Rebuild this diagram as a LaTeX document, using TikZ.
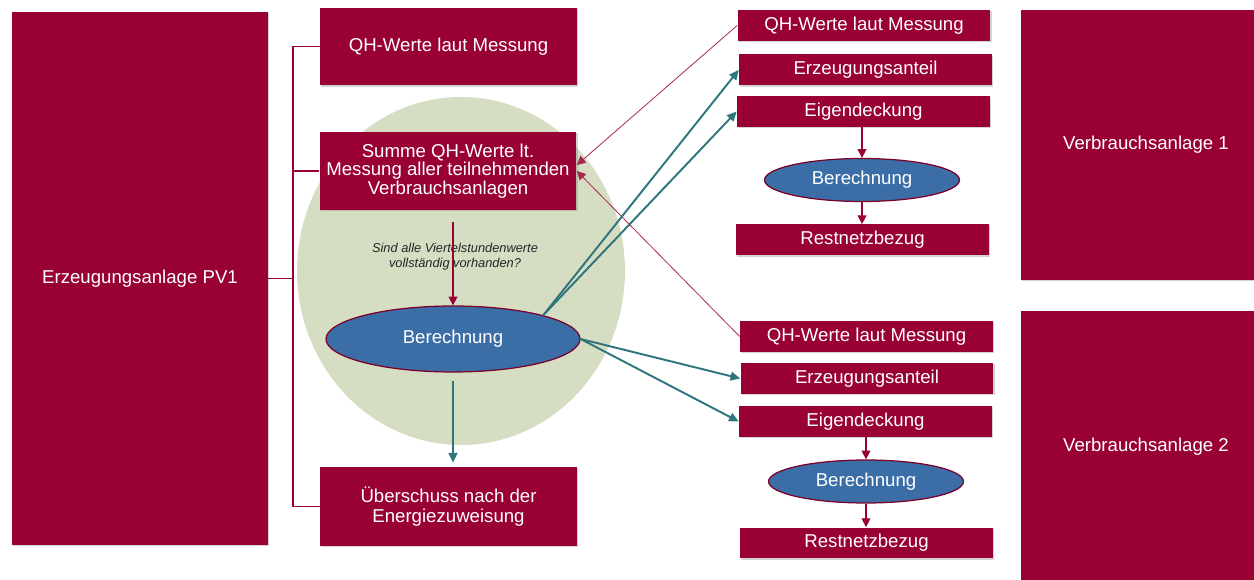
\documentclass[tikz,border=0pt]{standalone}
\usepackage{fontspec}
\setmainfont{Liberation Sans}
\usepackage{xcolor}
\definecolor{AnlageRed}{HTML}{990033}
\definecolor{CalcBlue}{HTML}{3B6EA6}
\definecolor{FlowTeal}{HTML}{2E767C}
\definecolor{PoolGreen}{HTML}{D5DDC2}
\usetikzlibrary{arrows.meta}
\usetikzlibrary{shapes.geometric}
\usetikzlibrary{shadows}

\tikzset{
	anlage/.style={fill=AnlageRed,text=white,inner sep=0pt,align=center,
		font=\fontsize{10.6}{11.4}\selectfont,
		drop shadow={shadow xshift=0.8pt,shadow yshift=-0.8pt,opacity=0.35}},
	bigbox/.style={anlage,minimum width=5.14cm,minimum height=1.56cm},
	rowbox/.style={anlage,minimum width=5.06cm,minimum height=0.62cm},
	calcoval/.style={ellipse,fill=CalcBlue,draw=AnlageRed!80!black,line width=0.7pt,
		text=white,inner sep=0pt,font=\fontsize{10.6}{11.4}\selectfont},
	redline/.style={AnlageRed,line width=0.85pt},
	redarrow/.style={AnlageRed,line width=0.6pt,-{Triangle[length=5pt,width=5pt]}},
	thinarrow/.style={AnlageRed!85,line width=0.45pt,-{Triangle[length=5pt,width=5pt]}},
	tealarrow/.style={FlowTeal,line width=1.1pt,-{Triangle[length=5.5pt,width=5pt]}}
}

\begin{document}
\begin{tikzpicture}[x=0.02cm,y=-0.02cm]
		\useasboundingbox (0,0) rectangle (1254,580); % page in px
		
		% green pool behind the left calculation
		\fill[PoolGreen] (461,271) ellipse [x radius=3.28cm,y radius=3.48cm];
		
		\node[anlage,minimum width=5.12cm,minimum height=10.66cm] (pv1) at (140,278.5) {Erzeugungsanlage PV1};
		
		\node[bigbox] (qh) at (448.5,46.5) {QH-Werte laut Messung};
		\node[bigbox,font=\fontsize{10.6}{10.4}\selectfont] (summe) at (448,171) {Summe QH-Werte lt.\\Messung aller teilnehmenden\\Verbrauchsanlagen};
		\node[text=black!85,align=center,font=\fontsize{7.3}{8.5}\selectfont\itshape] (frage) at (455,257) {Sind alle Viertelstundenwerte\\vollständig vorhanden?};
		\node[calcoval,minimum width=5.08cm,minimum height=1.32cm] (ber) at (453,339) {Berechnung};
		\node[bigbox,minimum height=1.58cm] (ueber) at (448.5,506.5) {Überschuss nach der\\Energiezuweisung};
		
		% Verbrauchsanlage 1
		\node[rowbox] (qh1) at (864,25.5) {QH-Werte laut Messung};
		\node[rowbox] (erz1) at (865.5,70) {Erzeugungsanteil};
		\node[rowbox] (eig1) at (863.5,111.5) {Eigendeckung};
		\node[calcoval,minimum width=3.9cm,minimum height=0.86cm] (ber1) at (862,180) {Berechnung};
		\node[rowbox] (rest1) at (862.5,240) {Restnetzbezug};
		
		% Verbrauchsanlage 2
		\node[rowbox] (qh2) at (866.5,336.5) {QH-Werte laut Messung};
		\node[rowbox] (erz2) at (867,378.5) {Erzeugungsanteil};
		\node[rowbox] (eig2) at (865.5,421.5) {Eigendeckung};
		\node[calcoval,minimum width=3.9cm,minimum height=0.86cm] (ber2) at (866,481.5) {Berechnung};
		\node[rowbox] (rest2) at (866.5,543) {Restnetzbezug};
		
		\node[anlage,minimum width=5cm,minimum height=5.4cm] (va1) at (1146,145) {Verbrauchsanlage 1};
		\node[anlage,minimum width=5cm,minimum height=5.44cm] (va2) at (1146,447) {Verbrauchsanlage 2};
		
		\coordinate (fork) at (293,278.5);
		\draw[redline] (pv1.east) -- (fork) |- (qh.west);
		\draw[redline] (fork) |- (summe.west);
		\draw[redline] (fork) |- (ueber.west);
		
		\draw[redarrow,shorten <=0.24cm] (ber.north |- summe.south) -- (ber.north);
		\draw[tealarrow,shorten <=0.16cm,shorten >=0.08cm] (ber.south) -- (ueber.north -| ber.south);
		
		\draw[thinarrow] (qh1.west) -- ([yshift=0.12cm]summe.east);
		\draw[thinarrow] (qh2.west) -- (summe.east);
		\draw[tealarrow] (ber.north east) -- (erz1.west);
		\draw[tealarrow] (ber.north east) -- (eig1.west);
		\draw[tealarrow] (ber.east) -- (erz2.west);
		\draw[tealarrow] (ber.east) -- (eig2.west);
		
		\draw[redarrow] (ber1.north |- eig1.south) -- (ber1.north);
		\draw[redarrow] (ber1.south) -- (ber1.south |- rest1.north);
		\draw[redarrow] (ber2.north |- eig2.south) -- (ber2.north);
		\draw[redarrow] (ber2.south) -- (ber2.south |- rest2.north);
		
	\end{tikzpicture}
\end{document}
